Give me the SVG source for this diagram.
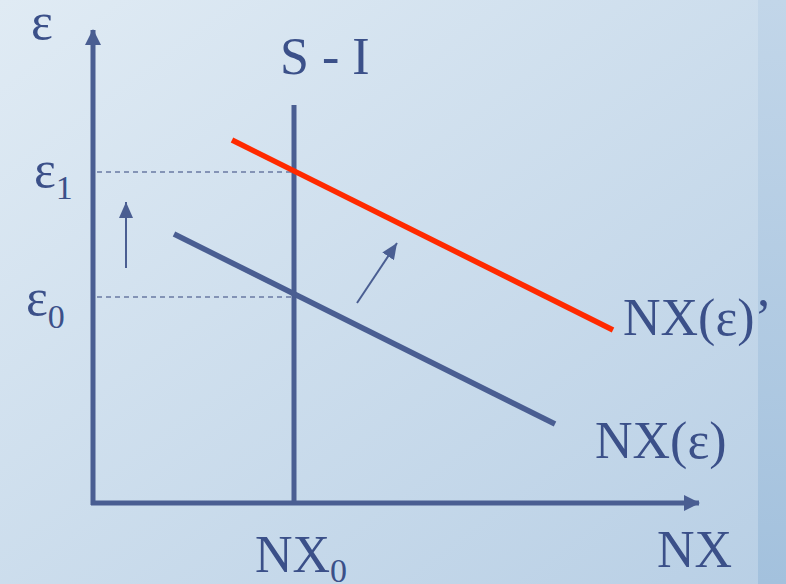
<svg xmlns="http://www.w3.org/2000/svg" width="786" height="584" viewBox="0 0 786 584">
  <defs>
    <linearGradient id="bg" x1="0" y1="0" x2="1" y2="1">
      <stop offset="0" stop-color="#e0ebf4"/>
      <stop offset="1" stop-color="#b8cfe5"/>
    </linearGradient>
    <linearGradient id="strip" x1="0" y1="0" x2="0" y2="1">
      <stop offset="0" stop-color="#c2d6e9"/>
      <stop offset="1" stop-color="#a3c1dd"/>
    </linearGradient>
    <marker id="thinHead" viewBox="0 0 16 14" refX="16" refY="7" markerWidth="16" markerHeight="14" markerUnits="userSpaceOnUse" orient="auto">
      <path d="M0,0 L16,7 L0,14 Z" fill="#4a5e92"/>
    </marker>
    <marker id="axisHead" viewBox="0 0 16 16" refX="15" refY="8" markerWidth="16" markerHeight="16" markerUnits="userSpaceOnUse" orient="auto">
      <path d="M0,0 L16,8 L0,16 Z" fill="#4a5e92"/>
    </marker>
  </defs>
  <style>
    .lbl { font-family: "Liberation Serif", "Times New Roman", serif; fill: #3b5089; font-size: 52px; }
    .sub { font-size: 34px; }
    .axis { stroke: #4a5e92; stroke-width: 5; fill: none; }
    .curve { stroke-width: 5.5; fill: none; }
    .dash { stroke: #6a7aa3; stroke-width: 1.5; stroke-dasharray: 5 4; fill: none; }
    .thin { stroke: #4a5e92; stroke-width: 2; fill: none; }
  </style>
  <rect x="0" y="0" width="786" height="584" fill="url(#bg)"/>
  <rect x="758" y="0" width="28" height="584" fill="url(#strip)"/>

  <g id="connectors">
    <line class="axis" x1="93" y1="505" x2="93" y2="30" marker-end="url(#axisHead)"/>
    <line class="axis" x1="91" y1="503" x2="699" y2="503" marker-end="url(#axisHead)"/>
    <line class="dash" x1="97" y1="172" x2="292" y2="172"/>
    <line class="dash" x1="97" y1="297" x2="292" y2="297"/>
    <line class="thin" x1="126" y1="268" x2="126" y2="202" marker-end="url(#thinHead)"/>
    <line class="thin" x1="357" y1="303" x2="397" y2="243" marker-end="url(#thinHead)"/>
  </g>

  <g id="si-line">
    <line class="axis" x1="294" y1="105" x2="294" y2="503" stroke-width="4.5"/>
    <text class="lbl" x="280" y="74">S - I</text>
  </g>

  <g id="nx-curve">
    <line class="curve" x1="174" y1="234" x2="555" y2="424" stroke="#4a5e92"/>
    <text class="lbl" x="595" y="458">NX(ε)</text>
  </g>

  <g id="nx-curve-shifted">
    <line class="curve" x1="232" y1="140" x2="613" y2="330" stroke="#ff2a00"/>
    <text class="lbl" x="623" y="335">NX(ε)’</text>
  </g>

  <g id="labels">
    <text class="lbl" x="31" y="39">ε</text>
    <text class="lbl" x="34" y="187">ε<tspan class="sub" dy="12">1</tspan></text>
    <text class="lbl" x="26" y="315">ε<tspan class="sub" dy="13">0</tspan></text>
    <text class="lbl" x="255" y="572">NX<tspan class="sub" dy="10">0</tspan></text>
    <text class="lbl" x="657" y="567">NX</text>
  </g>
</svg>
